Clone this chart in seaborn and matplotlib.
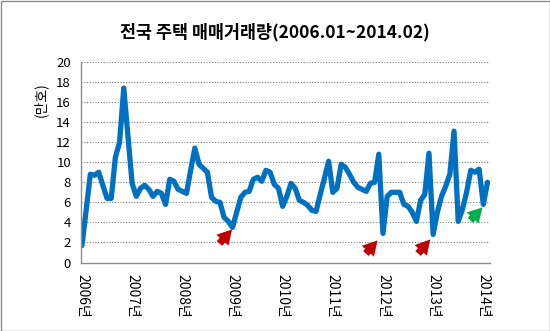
import matplotlib
matplotlib.use("Agg")
import matplotlib.pyplot as plt
import seaborn as sns
import pandas as pd
import numpy as np
from matplotlib.patches import Rectangle

# Monthly national housing transactions (10k units), 2006.01 ~ 2014.02
values = [
    1.7, 5.2, 8.8, 8.7, 9.0, 7.7, 6.4, 6.4, 10.5, 12.0, 17.4, 12.6,   # 2006
    7.9, 6.6, 7.4, 7.7, 7.3, 6.6, 7.1, 6.9, 5.8, 8.3, 8.1, 7.3,       # 2007
    7.1, 6.9, 9.2, 11.4, 9.8, 9.4, 9.0, 6.5, 6.1, 6.0, 4.5, 4.1,      # 2008
    3.5, 5.0, 6.5, 7.0, 7.1, 8.3, 8.5, 8.1, 9.2, 9.0, 7.8, 7.4,       # 2009
    5.6, 6.6, 7.9, 7.4, 6.2, 6.0, 5.7, 5.2, 5.1, 6.8, 8.4, 10.1,      # 2010
    7.0, 7.4, 9.8, 9.5, 8.8, 8.0, 7.5, 7.3, 7.1, 7.9, 8.0, 10.8,      # 2011
    2.9, 6.6, 7.0, 7.0, 7.0, 5.8, 5.6, 5.0, 4.1, 6.2, 6.8, 10.9,      # 2012
    2.8, 5.0, 6.6, 7.6, 8.8, 13.1, 4.1, 5.3, 7.0, 9.2, 9.0, 9.3,      # 2013
    5.8, 8.0,                                                         # 2014
]
months = list(range(len(values)))
tick_labels = ["2006년", "2007년", "2008년", "2009년", "2010년",
               "2011년", "2012년", "2013년", "2014년"]
tick_pos = [12 * i for i in range(len(tick_labels))]
yticks = list(range(0, 21, 2))
title = "전국 주택 매매거래량(2006.01~2014.02)"
ylabel = "(만호)"

# arrows: (tail_x, tail_y, head_x, head_y)
red_arrows = [(32.9, 1.9, 35.9, 3.3), (67.9, 0.9, 70.7, 2.2), (80.4, 0.9, 83.3, 2.3)]
green_arrows = [(92.9, 4.2, 95.8, 5.5)]

df = pd.DataFrame({"month": months, "value": values})

sns.set_theme(style="white")
plt.rcParams["font.family"] = ["Noto Sans CJK KR", "DejaVu Sans"]

fig = plt.figure(figsize=(5.5, 3.31), dpi=100)
ax = fig.add_axes([80.7 / 550, (331 - 262.5) / 331, (490 - 80.7) / 550, 200.5 / 331])

sns.lineplot(data=df, x="month", y="value", ax=ax, color="#0070C0",
             linewidth=3.8, solid_joinstyle="round", solid_capstyle="round")

ax.set_xlim(-0.3, 97.6)
ax.set_ylim(0, 20)
ax.set_yticks(yticks)
ax.set_yticklabels([str(v) for v in yticks], fontsize=9.5, color="#000000")
ax.set_xticks(tick_pos)
ax.set_xticklabels(tick_labels, rotation=270, fontsize=10, color="#000000",
                   ha="center", va="top")
ax.tick_params(axis="x", length=0, pad=8)
ax.tick_params(axis="y", length=0, pad=7)
ax.set_xlabel("")
ax.set_ylabel("")

for v in yticks[1:]:
    ax.axhline(v, color="#7f7f7f", linestyle=(0, (1, 1.5)), linewidth=0.8, zorder=0)

for side in ["top", "right"]:
    ax.spines[side].set_visible(False)
for side in ["left", "bottom"]:
    ax.spines[side].set_color("#8c8c8c")
    ax.spines[side].set_linewidth(1.0)

style = "simple,head_length=0.8,head_width=0.9,tail_width=0.4"
for (x0, y0, x1, y1) in red_arrows:
    ax.annotate("", xy=(x1, y1), xytext=(x0, y0),
                arrowprops=dict(arrowstyle=style, mutation_scale=13,
                                color="#C00000", lw=0, shrinkA=0, shrinkB=0))
for (x0, y0, x1, y1) in green_arrows:
    ax.annotate("", xy=(x1, y1), xytext=(x0, y0),
                arrowprops=dict(arrowstyle=style, mutation_scale=13,
                                color="#00B050", lw=0, shrinkA=0, shrinkB=0))

fig.text(275 / 550, 1 - 32 / 331, title, ha="center", va="center",
         fontsize=12.5, fontweight="bold", color="#000000")
fig.text(41 / 550, 1 - 100 / 331, ylabel, ha="center", va="center",
         rotation=90, fontsize=10, color="#000000")

fig.patches.append(Rectangle((0.5 / 550, 0.5 / 331), 549 / 550, 330 / 331,
                             transform=fig.transFigure, fill=False,
                             edgecolor="#8c8c8c", linewidth=1.0))

fig.savefig("out.png", dpi=100)
